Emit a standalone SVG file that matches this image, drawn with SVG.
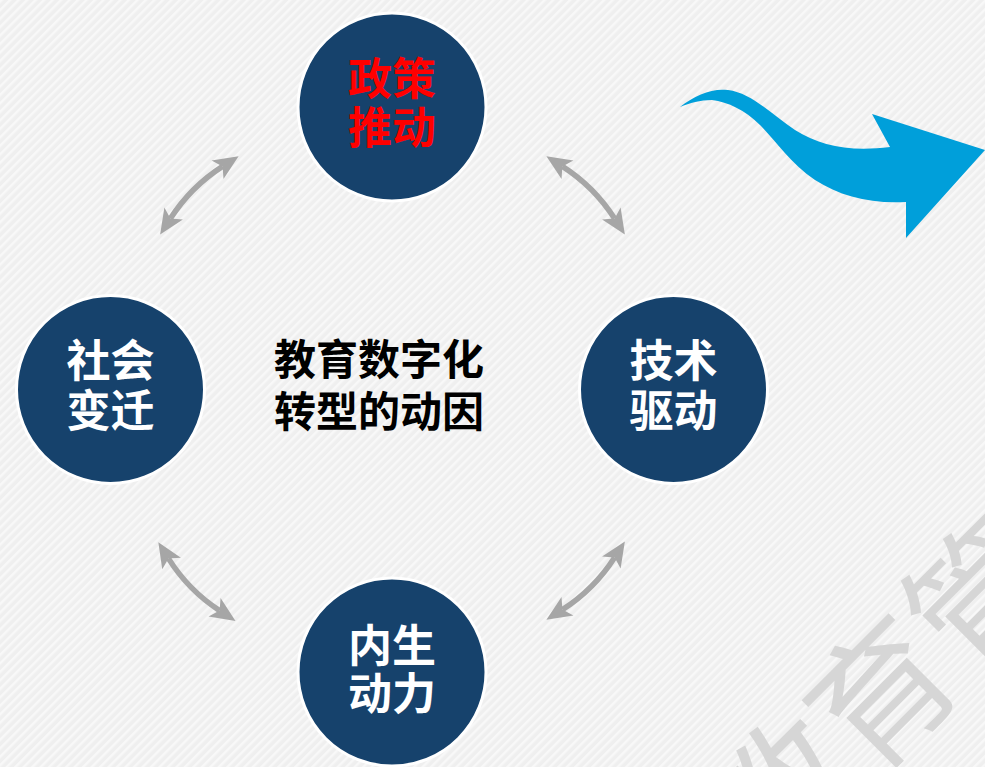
<svg xmlns="http://www.w3.org/2000/svg" width="985" height="767" viewBox="0 0 985 767">
<style>
.node circle{fill:#16426C;stroke:#FFFFFF;stroke-width:3}
.lbl{font-family:"Noto Sans CJK SC","Noto Sans",sans-serif;font-weight:bold;font-size:44px;text-anchor:middle;fill:#FFFFFF}
.red{fill:#FF0000}
.title{font-family:"Noto Sans CJK SC","Noto Sans",sans-serif;font-weight:bold;font-size:42px;text-anchor:middle;fill:#000000}
.conn{fill:none;stroke:#A6A6A6;stroke-width:5.5;marker-start:url(#ah);marker-end:url(#ah)}
.wm{font-family:"Noto Sans CJK SC","Noto Sans",sans-serif;font-size:140px;text-anchor:middle;fill:#D6D6D6}
</style>
<defs>
<pattern id="bg" width="6" height="6" patternUnits="userSpaceOnUse" patternTransform="rotate(45)">
<rect width="6" height="6" fill="#EFEFEF"/>
<rect width="2.5" height="6" fill="#F8F8F8"/>
</pattern>
<marker id="ah" markerUnits="userSpaceOnUse" markerWidth="30" markerHeight="30" viewBox="-2 -14 30 28" refX="6" refY="0" orient="auto-start-reverse">
<path d="M0,-11 L25,0 L0,11 L6,0 Z" fill="#A6A6A6"/>
</marker>
</defs>
<rect width="985" height="767" fill="url(#bg)"/>
<g id="watermark" transform="translate(883,695) rotate(-45)">
<text class="wm" x="0" y="50">教育管</text>
</g>
<g id="connectors">
<path class="conn" d="M170.4,218.6 Q190.8,186.8 222.6,166.4"/>
<path class="conn" d="M562.4,166.4 Q594.2,186.8 614.6,218.6"/>
<path class="conn" d="M168.4,558.4 Q188.3,590.2 219.6,610.6"/>
<path class="conn" d="M614.6,557.4 Q594.2,589.2 562.4,609.6"/>
</g>
<g id="blue-arrow">
<path d="M680,107 C695,95 712,88 728,90 C752,93 772,115 795,130 C820,146 850,152 890,147 L872,114 L985,150 L906,238 L906,202 C870,204 840,196 815,180 C790,163 775,140 760,125 C745,110 728,102 712,100 C700,100 690,103 680,107 Z" fill="#009FDA"/>
</g>
<g id="node-policy" class="node">
<circle cx="392" cy="107" r="94"/>
<text class="lbl red" x="392" y="95">政策</text>
<text class="lbl red" x="392" y="144">推动</text>
</g>
<g id="node-society" class="node">
<circle cx="110.5" cy="389.5" r="94"/>
<text class="lbl" x="110.5" y="377">社会</text>
<text class="lbl" x="110.5" y="427">变迁</text>
</g>
<g id="node-tech" class="node">
<circle cx="673.5" cy="389.5" r="94"/>
<text class="lbl" x="673.5" y="377">技术</text>
<text class="lbl" x="673.5" y="427">驱动</text>
</g>
<g id="node-internal" class="node">
<circle cx="392" cy="672" r="94"/>
<text class="lbl" x="392" y="662">内生</text>
<text class="lbl" x="392" y="710">动力</text>
</g>
<g id="center-title">
<text class="title" x="379" y="375">教育数字化</text>
<text class="title" x="379" y="427">转型的动因</text>
</g>
</svg>
